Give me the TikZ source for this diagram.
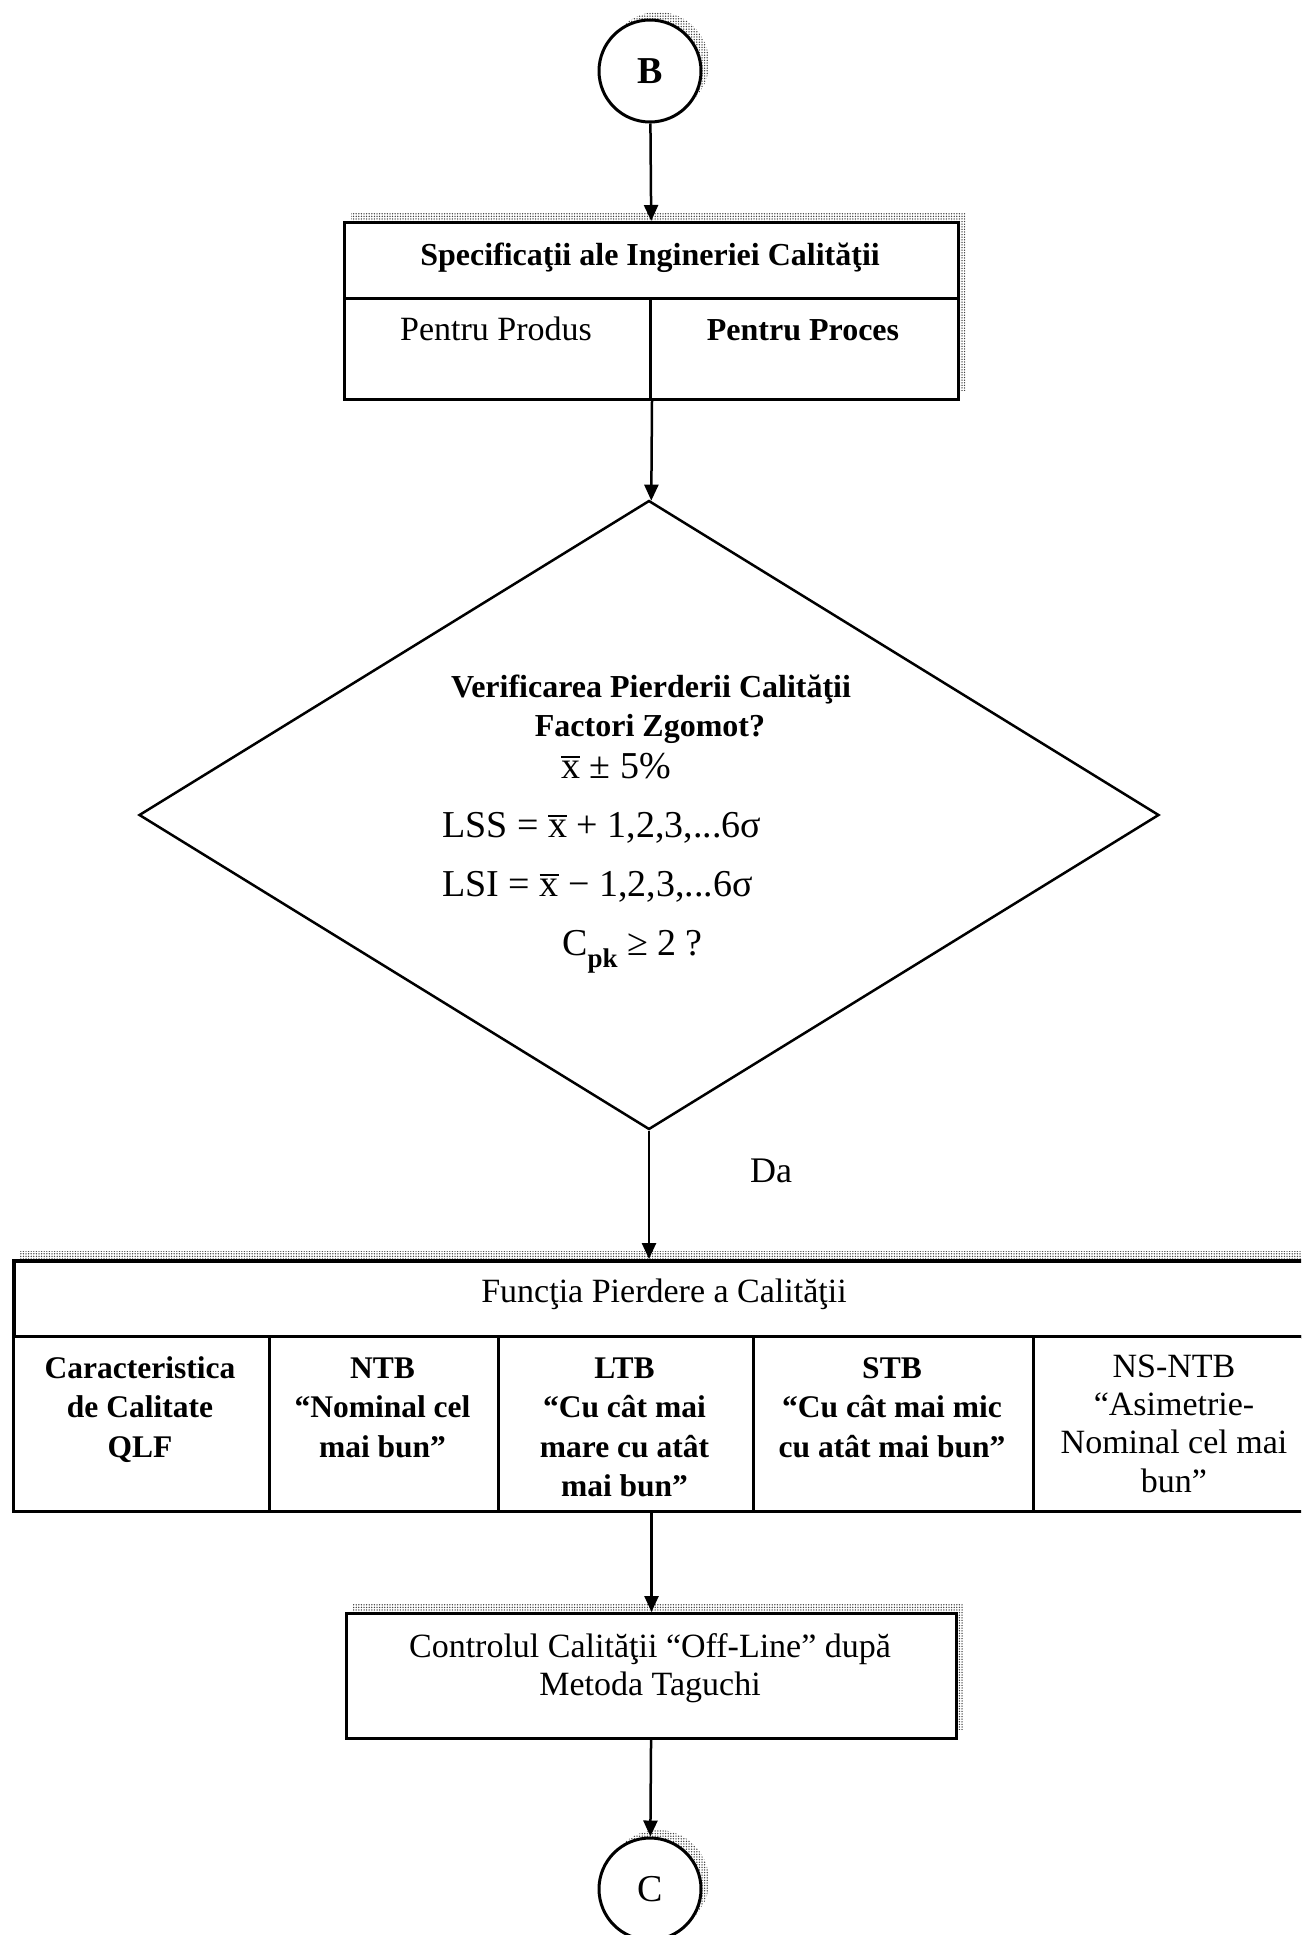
\documentclass[tikz,border=0pt]{standalone}
\usepackage{fontspec}
\setmainfont{Liberation Serif}
\usetikzlibrary{arrows.meta,shapes.geometric,patterns}

% coarse halftone dots for the drop shadows
\pgfdeclarepatternformonly{halftonedots}{\pgfqpoint{-1pt}{-1pt}}{\pgfqpoint{1pt}{1pt}}{\pgfqpoint{2.6pt}{2.6pt}}{%
  \pgfpathcircle{\pgfqpoint{0pt}{0pt}}{0.75pt}\pgfusepath{fill}}

% type sizes used in the chart
\newcommand\rgfont{\fontsize{34pt}{38.5pt}\selectfont}
\newcommand\bdfont{\bfseries\fontsize{32pt}{39.5pt}\selectfont}
\newcommand\cellbd{\bfseries\fontsize{31.5pt}{39.5pt}\selectfont}
\newcommand\cellrg{\fontsize{34pt}{38.3pt}\selectfont}
\newcommand\mathfnt{\fontsize{38pt}{42pt}\selectfont}
\newcommand\letterfnt{\fontsize{38pt}{42pt}\selectfont}
\newcommand\xbar{\leavevmode\vbox{\hrule height 2pt\kern 3pt\hbox{x}}}
\newcommand\lowsub[1]{\raisebox{-0.32em}{\fontsize{27pt}{30pt}\selectfont\bfseries #1}}
\newcommand\firstline{\rule{0pt}{0.8em}}

\tikzset{
  frame/.style={rectangle, draw, line width=3pt, fill=white, inner sep=0pt},
  conn/.style={line width=2.5pt, -{Triangle[length=16pt,width=14pt]}},
  halftone/.style={pattern=halftonedots, pattern color=black!75},
  txt/.style={inner sep=0pt},
  connector/.style={circle, draw, line width=3pt, fill=white,
    minimum size=102pt, inner sep=0pt}
}

\begin{document}
\begin{tikzpicture}[x=1pt,y=-1pt]
\useasboundingbox (0,0) rectangle (1301,1935);
\clip (0,0) rectangle (1301,1935);
\fill[white] (0,0) rectangle (1301,1935);

% halftone drop shadows (towards the upper right)
\fill[halftone] (658,63) circle[radius=51pt];
\fill[halftone] (351,213) rectangle (965,390);
\fill[halftone] (20,1251) rectangle (1324,1502);
\fill[halftone] (353,1604) rectangle (963,1729);
\fill[halftone] (658,1881) circle[radius=51pt];

% off-page connector B
\node[connector, font=\bfseries\letterfnt] (B) at (650,71) {B};

% specifications table
\node[frame, minimum width=614pt, minimum height=76pt, anchor=north west] (spec) at (343,221) {};
\node[frame, minimum width=306pt, minimum height=101pt, anchor=north west] (prod) at (343,297) {};
\node[frame, minimum width=308pt, minimum height=101pt, anchor=north west] (proc) at (649,297) {};
\node[txt, anchor=base, font=\bdfont] (specT) at (650,265) {Specificaţii ale Ingineriei Calităţii};
\node[txt, anchor=base, font=\rgfont] (prodT) at (496,340) {Pentru Produs};
\node[txt, anchor=base, font=\bdfont] (procT) at (803,340) {Pentru Proces};

% decision
\node[diamond, draw, line width=2.5pt, fill=white, minimum width=1020pt,
      minimum height=629pt, inner sep=0pt] (dec) at (649,815) {};
\node[txt, anchor=base, font=\bdfont] (q1) at (651,697) {Verificarea Pierderii Calităţii};
\node[txt, anchor=base, font=\bdfont] (q2) at (650,736) {Factori Zgomot?};
\node[txt, anchor=base west, font=\mathfnt] (q3) at (561,778) {\xbar\ ± 5\%};
\node[txt, anchor=base west, font=\mathfnt] (q4) at (442,837) {LSS = \xbar\ + 1,2,3,...6σ};
\node[txt, anchor=base west, font=\mathfnt] (q5) at (442,896) {LSI = \xbar\ − 1,2,3,...6σ};
\node[txt, anchor=base west, font=\mathfnt] (q6) at (562,955) {C\lowsub{pk}\ ≥ 2 ?};

\node[txt, anchor=base west, font=\fontsize{36pt}{40pt}\selectfont] (da) at (750,1182) {Da};

% quality loss function table
\node[frame, line width=3.5pt, minimum width=1304pt, minimum height=76pt, anchor=north west] (fhdr) at (12,1259) {};
\node[txt, anchor=base, font=\rgfont] (fhdrT) at (664,1302) {Funcţia Pierdere a Calităţii};
\node[frame, minimum width=256pt, minimum height=175pt, anchor=north west] (c1) at (12,1335) {};
\node[frame, minimum width=229pt, minimum height=175pt, anchor=north west] (c2) at (268,1335) {};
\node[frame, minimum width=255pt, minimum height=175pt, anchor=north west] (c3) at (497,1335) {};
\node[frame, minimum width=280pt, minimum height=175pt, anchor=north west] (c4) at (752,1335) {};
\node[frame, minimum width=284pt, minimum height=175pt, anchor=north west] (c5) at (1032,1335) {};
\node[txt, anchor=north, align=center, font=\cellbd] (t1) at (140,1352.8) {\firstline Caracteristica\\de Calitate\\QLF};
\node[txt, anchor=north, align=center, font=\cellbd] (t2) at (382.5,1352.8) {\firstline NTB\\“Nominal cel\\mai bun”};
\node[txt, anchor=north, align=center, font=\cellbd] (t3) at (624.5,1352.8) {\firstline LTB\\“Cu cât mai\\mare cu atât\\mai bun”};
\node[txt, anchor=north, align=center, font=\cellbd] (t4) at (892,1352.8) {\firstline STB\\“Cu cât mai mic\\cu atât mai bun”};
\node[txt, anchor=north, align=center, font=\cellrg] (t5) at (1174,1349.8) {\firstline NS-NTB\\“Asimetrie-\\Nominal cel mai\\bun”};

% off-line control box
\node[frame, minimum width=610pt, minimum height=125pt, anchor=north west] (ctrl) at (345,1612) {};
\node[txt, anchor=north, align=center, font=\rgfont] (ctrlT) at (650,1629.8) {\firstline Controlul Calităţii “Off-Line” după\\Metoda Taguchi};

% off-page connector C
\node[connector, font=\letterfnt] (C) at (650,1889) {C};

% flow
\draw[conn] (B) -- (spec);
\draw[conn] (prod.south east) -- (dec);
\draw[conn] (dec.south) -- (dec.south |- fhdr.north);
\draw[conn] (ctrl.north |- c3.south) -- (ctrl);
\draw[conn] (ctrl) -- (C);
\end{tikzpicture}
\end{document}
